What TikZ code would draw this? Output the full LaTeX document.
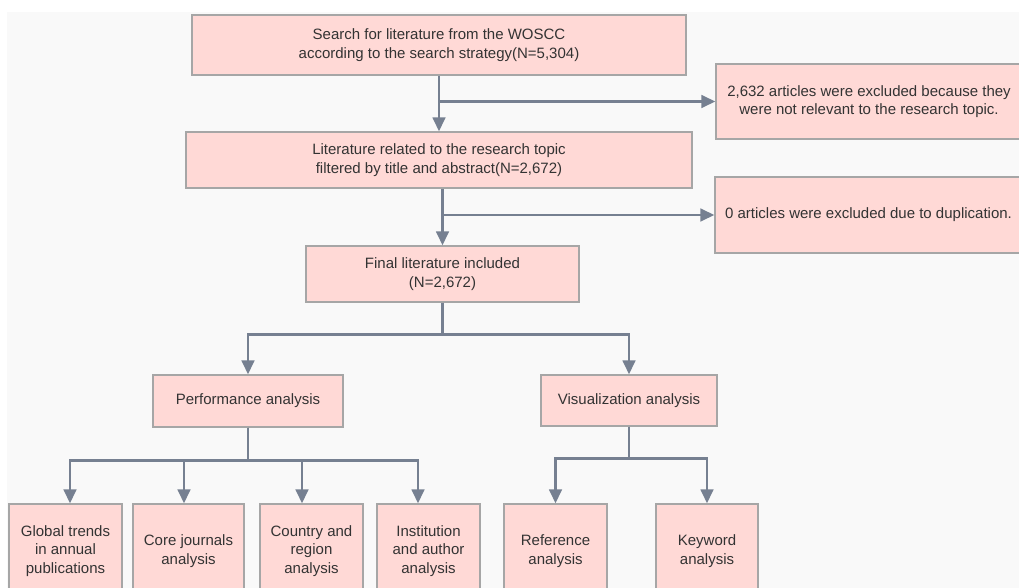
\documentclass[tikz,border=0pt]{standalone}
\usepackage{fontspec}
\setmainfont{Liberation Sans}
\usetikzlibrary{arrows.meta}

\definecolor{boxfill}{RGB}{255,217,214}
\definecolor{boxline}{RGB}{166,166,166}
\definecolor{flowline}{RGB}{118,128,145}
\definecolor{txtgrey}{RGB}{51,51,51}
\definecolor{bggrey}{RGB}{249,249,249}

\tikzset{
  box/.style={rectangle, draw=boxline, fill=boxfill, line width=1.2pt,
    inner sep=0pt, align=center, text=txtgrey,
    font=\fontsize{15}{18.4}\selectfont},
  flow/.style={draw=flowline, line width=2.8pt},
  flowarr/.style={flow, -{Triangle[width=12.5pt,length=14pt]}},
}

\begin{document}
\begin{tikzpicture}[x=1pt,y=1pt,yscale=-1,xscale=1]
\useasboundingbox (0,0) rectangle (1019,588);
\clip (0,0) rectangle (1019,588);
\fill[bggrey] (7,12) rectangle (1019,588);

% main column
\node[box, minimum width=494pt, minimum height=60pt] (search) at (439,45)
  {Search for literature from the WOSCC\\according to the search strategy(N=5,304)};
\node[box, minimum width=506pt, minimum height=56pt] (filtered) at (439,160)
  {Literature related to the research topic\\ filtered by title and abstract(N=2,672)};
\node[box, minimum width=273pt, minimum height=56pt] (final) at (442.5,274)
  {Final literature included\\(N=2,672)};

% excluded records
\node[box, minimum width=306pt, minimum height=75pt] (excl1) at (869,101.5)
  {2,632 articles were excluded because they\\ were not relevant to the research topic.};
\node[box, minimum width=307pt, minimum height=76pt] (excl2) at (868.5,215)
  {0 articles were excluded due to duplication.};

% two branches
\node[box, minimum width=190pt, minimum height=52pt] (perf) at (248,401)
  {Performance analysis};
\node[box, minimum width=176pt, minimum height=51pt] (visual) at (629,400.5)
  {Visualization analysis};

% bottom row
\node[box, minimum width=113pt, minimum height=94pt] (trends) at (65.5,551)
  {Global trends\\in annual\\publications};
\node[box, minimum width=111pt, minimum height=94pt] (journals) at (188.5,551)
  {Core journals\\analysis};
\node[box, minimum width=103pt, minimum height=94pt] (country) at (311.5,551)
  {Country and\\region\\analysis};
\node[box, minimum width=103pt, minimum height=94pt] (inst) at (428.5,551)
  {Institution\\and author\\analysis};
\node[box, minimum width=103pt, minimum height=94pt] (reference) at (555.5,551)
  {Reference\\analysis};
\node[box, minimum width=102pt, minimum height=94pt] (keyword) at (707,551)
  {Keyword\\analysis};

% connectors
\draw[flowarr] (search.south) -- (filtered.north);
\draw[flowarr] (search.south |- excl1.west) -- (excl1.west);
\draw[flowarr] (final.north |- filtered.south) -- (final.north);
\draw[flowarr] (final.north |- excl2.west) -- (excl2.west);

\draw[flowarr] (final.south) -- ++(0,32) -| (perf.north);
\draw[flowarr] (final.south) -- ++(0,32) -| (visual.north);

\draw[flowarr] (perf.south) -- ++(0,33) -| ([xshift=4.5pt]trends.north);
\draw[flowarr] (perf.south) -- ++(0,33) -| ([xshift=-4.5pt]journals.north);
\draw[flowarr] (perf.south) -- ++(0,33) -| ([xshift=-9.5pt]country.north);
\draw[flowarr] (perf.south) -- ++(0,33) -| ([xshift=-10.5pt]inst.north);

\draw[flowarr] (visual.south) -- ++(0,32) -| (reference.north);
\draw[flowarr] (visual.south) -- ++(0,32) -| (keyword.north);
\end{tikzpicture}
\end{document}
